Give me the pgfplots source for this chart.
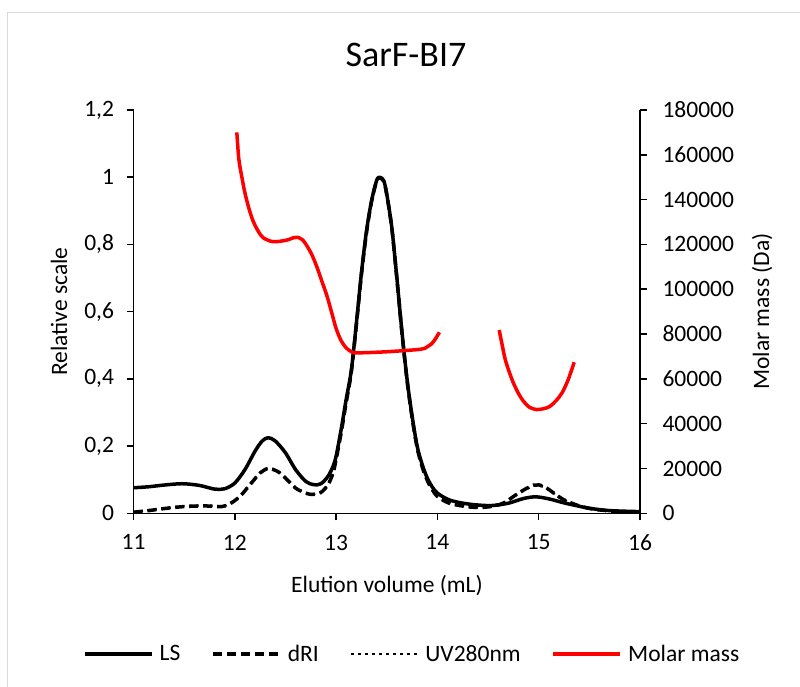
\documentclass[border=0pt]{standalone}
\usepackage{fontspec}
\setmainfont{Carlito}
\usepackage{pgfplots}
\usepackage{pgfplotstable}
\pgfplotsset{compat=1.18}
\definecolor{bordergray}{RGB}{217,217,217}
\definecolor{mmred}{RGB}{255,0,0}

\pgfplotstableread{
x y
11.00 0.076
11.15 0.079
11.30 0.084
11.48 0.088
11.65 0.083
11.80 0.072
11.90 0.073
12.00 0.090
12.10 0.130
12.20 0.185
12.27 0.215
12.33 0.225
12.40 0.215
12.50 0.180
12.60 0.130
12.70 0.095
12.78 0.085
12.85 0.088
12.92 0.110
12.97 0.140
13.00 0.170
13.05 0.250
13.10 0.340
13.15 0.425
13.20 0.565
13.25 0.715
13.30 0.840
13.35 0.930
13.40 0.990
13.43 1.000
13.47 0.990
13.50 0.950
13.55 0.850
13.60 0.700
13.65 0.540
13.70 0.400
13.75 0.290
13.80 0.200
13.85 0.145
13.90 0.105
13.95 0.078
14.00 0.060
14.10 0.042
14.20 0.033
14.35 0.026
14.53 0.023
14.70 0.030
14.85 0.044
14.97 0.049
15.10 0.043
15.25 0.031
15.37 0.023
15.50 0.015
15.70 0.008
16.00 0.005
}\lsdata

\pgfplotstableread{
x y
11.00 0.003
11.15 0.008
11.30 0.014
11.50 0.020
11.70 0.022
11.87 0.020
11.95 0.028
12.05 0.050
12.15 0.085
12.25 0.120
12.33 0.133
12.42 0.125
12.50 0.105
12.60 0.075
12.70 0.060
12.77 0.056
12.85 0.062
12.92 0.085
12.97 0.120
13.00 0.160
13.05 0.240
13.10 0.330
13.15 0.420
13.20 0.560
13.25 0.710
13.30 0.835
13.35 0.928
13.40 0.988
13.43 0.998
13.47 0.988
13.50 0.948
13.55 0.848
13.60 0.698
13.65 0.537
13.70 0.396
13.75 0.285
13.80 0.195
13.85 0.138
13.90 0.098
13.95 0.070
14.00 0.050
14.10 0.032
14.20 0.024
14.35 0.018
14.50 0.019
14.65 0.030
14.80 0.060
14.95 0.084
15.05 0.080
15.15 0.060
15.25 0.040
15.40 0.022
15.55 0.012
15.75 0.006
16.00 0.003
}\dridata

\pgfplotstableread{
x y
11.00 0.004
11.15 0.009
11.30 0.015
11.50 0.021
11.70 0.023
11.87 0.021
11.95 0.029
12.05 0.051
12.15 0.086
12.25 0.121
12.33 0.134
12.42 0.126
12.50 0.106
12.60 0.076
12.70 0.061
12.77 0.057
12.85 0.063
12.92 0.086
12.97 0.121
13.00 0.161
13.05 0.241
13.10 0.331
13.15 0.421
13.20 0.561
13.25 0.711
13.30 0.836
13.35 0.929
13.40 0.989
13.43 0.999
13.47 0.989
13.50 0.949
13.55 0.849
13.60 0.699
13.65 0.538
13.70 0.397
13.75 0.286
13.80 0.196
13.85 0.139
13.90 0.099
13.95 0.071
14.00 0.051
14.10 0.033
14.20 0.025
14.35 0.019
14.50 0.020
14.65 0.031
14.80 0.059
14.95 0.082
15.05 0.079
15.15 0.059
15.25 0.040
15.40 0.022
15.55 0.012
15.75 0.006
16.00 0.003
}\uvdata

\pgfplotstableread{
x y
12.02 170000
12.04 158000
12.07 150000
12.10 143000
12.14 136000
12.18 130500
12.23 126000
12.28 123000
12.38 121200
12.51 121900
12.58 123000
12.62 123200
12.67 122000
12.71 119500
12.76 115500
12.81 110000
12.86 103500
12.91 97000
12.96 89000
13.00 82500
13.05 77000
13.10 73800
13.15 72200
13.20 71600
13.50 72100
13.83 73200
13.90 74300
13.94 75500
13.98 77800
14.02 80800
}\mmone

\pgfplotstableread{
x y
14.61 81800
14.64 75000
14.67 68600
14.71 63000
14.75 58200
14.80 53500
14.85 50000
14.91 47300
14.98 46300
15.05 46700
15.11 47700
15.17 50200
15.23 53700
15.29 59500
15.35 67400
}\mmtwo

\begin{document}
\begin{tikzpicture}
\useasboundingbox (0pt,0pt) rectangle (800pt,686pt);
\draw[bordergray, line width=1.5pt] (7.5pt,-2pt) -- (7.5pt,673.3pt) -- (802pt,673.3pt);
\pgfplotsset{
  common/.style={
    at={(133.5pt,172.7pt)}, anchor=south west,
    scale only axis, width=506.5pt, height=403.3pt,
    xmin=11, xmax=16,
    axis line style={line width=1.5pt, black},
    every tick/.style={line width=1.5pt, black},
    major tick length=7pt,
    tick align=outside,
    tick label style={font=\fontsize{23.5}{28}\selectfont},
    /pgf/number format/assume math mode=true,
    scaled y ticks=false,
  }
}
\begin{axis}[common,
  axis x line*=bottom, axis y line*=left,
  ymin=0, ymax=1.2,
  xtick={11,12,13,14,15,16},
  xticklabels={11,12,13,14,15,16},
  ytick={0,0.2,0.4,0.6,0.8,1,1.2},
  yticklabels={0,{0,2},{0,4},{0,6},{0,8},1,{1,2}},
  xticklabel style={yshift=-11pt},
  yticklabel style={xshift=-9pt},
]
\addplot[black, line width=3.5pt, smooth, line join=round] table {\lsdata};
\addplot[black, line width=3.5pt, smooth, dash pattern=on 9pt off 5pt] table {\dridata};
\addplot[black, line width=2.5pt, smooth, dash pattern=on 2.5pt off 4.5pt] table {\uvdata};
\end{axis}
\begin{axis}[common,
  axis y line*=right, axis x line=none,
  ymin=0, ymax=180000,
  ytick={0,20000,40000,60000,80000,100000,120000,140000,160000,180000},
  yticklabels={0,20000,40000,60000,80000,100000,120000,140000,160000,180000},
  yticklabel style={xshift=12pt},
  legend columns=4,
  legend style={at={(-0.0997,-0.349)}, anchor=west, draw=none, fill=none,
    inner sep=0pt, nodes={inner sep=0pt},
    font=\fontsize{23.5}{28}\selectfont,
    /tikz/every odd column/.append style={column sep=6pt},
    /tikz/every even column/.append style={column sep=31pt}},
  legend image code/.code={\draw[#1] (0pt,0pt) -- (67pt,0pt);},
]
\addlegendimage{black, line width=3.5pt}
\addlegendentry{LS}
\addlegendimage{black, line width=3.5pt, dash pattern=on 9pt off 5pt}
\addlegendentry{dRI}
\addlegendimage{black, line width=2.5pt, dash pattern=on 2.5pt off 4.5pt}
\addlegendentry{UV280nm}
\addplot[mmred, line width=3.5pt, smooth, line join=round] table {\mmone};
\addlegendentry{Molar mass}
\addplot[mmred, line width=3.5pt, smooth, line join=round, forget plot] table {\mmtwo};
\end{axis}
\node[anchor=base, font=\fontsize{36}{42}\selectfont] at (406pt,619pt) {SarF-BI7};
\node[anchor=base, font=\fontsize{23.5}{28}\selectfont] at (387pt,94pt) {Elution volume (mL)};
\node[anchor=base, rotate=90, font=\fontsize{23.5}{28}\selectfont] at (67pt,374.5pt) {Relative scale};
\node[anchor=base, rotate=90, font=\fontsize{23.5}{28}\selectfont] at (769pt,374.5pt) {Molar mass (Da)};
\end{tikzpicture}
\end{document}
